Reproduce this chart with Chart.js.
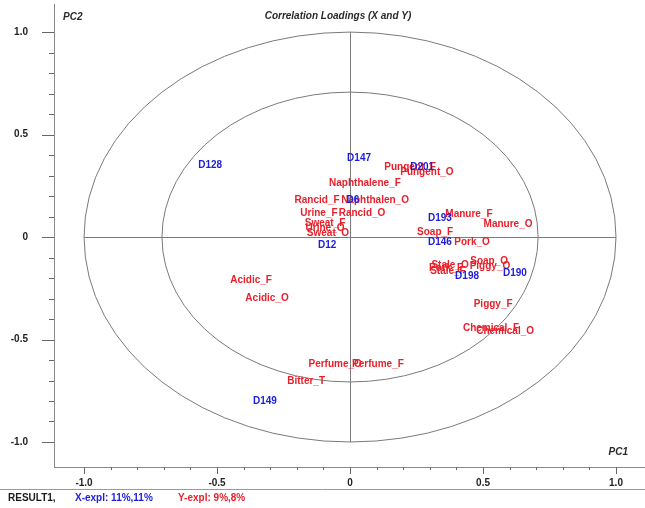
<!DOCTYPE html>
<html>
<head>
<meta charset="utf-8">
<script src="https://cdn.jsdelivr.net/npm/chart.js@4.4.0/dist/chart.umd.min.js"></script>
<style>
  html, body { margin: 0; padding: 0; background: #fff; }
</style>
</head>
<body>
<canvas id="c" width="645" height="508"></canvas>
<script>
// Y variables (sensory attributes), red
const yNames = ['Pungent_F','Pungent_O','Naphthalene_F','Rancid_F','Naphthalen_O','Urine_F','Rancid_O',
  'Sweat_F','Urine_O','Sweat_O','Manure_F','Manure_O','Soap_F','Pork_O','Soap_O','Stale_O','Piggy_O',
  'Pork_F','Stale_F','Piggy_F','Chemical_F','Chemical_O','Acidic_F','Acidic_O','Perfume_O','Perfume_F','Bitter_T'];
const yPC1 = [0.226,0.289,0.056,-0.124,0.094,-0.117,0.045,
  -0.094,-0.094,-0.083,0.447,0.594,0.320,0.459,0.523,0.376,0.526,
  0.361,0.368,0.538,0.530,0.583,-0.372,-0.312,-0.056,0.105,-0.165];
const yPC2 = [0.341,0.317,0.263,0.180,0.180,0.117,0.117,
  0.068,0.044,0.020,0.112,0.063,0.024,-0.024,-0.117,-0.137,-0.141,
  -0.151,-0.166,-0.327,-0.444,-0.459,-0.210,-0.298,-0.620,-0.620,-0.702];

// X variables, blue
const xNames = ['D128','D147','D201','D6','D193','D146','D12','D198','D190','D149'];
const xPC1 = [-0.526,0.034,0.271,0.011,0.338,0.338,-0.086,0.440,0.620,-0.320];
const xPC2 = [0.351,0.385,0.341,0.180,0.093,-0.024,-0.039,-0.190,-0.176,-0.800];

// Axis ticks
const majorTicks = [-1.0,-0.5,0,0.5,1.0];
const majorLabels = ['-1.0','-0.5','0','0.5','1.0'];
const minorTicks = [-0.9,-0.8,-0.7,-0.6,-0.4,-0.3,-0.2,-0.1,0.1,0.2,0.3,0.4,0.6,0.7,0.8,0.9];

// Explained variance shown in the footer
const xExpl = ['11%','11%'];
const yExpl = ['9%','8%'];

const FONT = '"Liberation Sans", Arial, Helvetica, sans-serif';
const RED = '#e8202a';
const BLUE = '#1c1cdc';
const LINE = '#7a7a7a';

const toPoints = (xs, ys) => xs.map((x, i) => ({ x, y: ys[i] }));

const loadingsPlugin = {
  id: 'loadings',
  beforeDatasetsDraw(chart) {
    const { ctx, scales: { x, y }, chartArea: a } = chart;
    const cx = x.getPixelForValue(0), cy = y.getPixelForValue(0);
    const ux = x.getPixelForValue(1) - cx, uy = cy - y.getPixelForValue(1);
    ctx.save();
    ctx.strokeStyle = LINE;
    ctx.lineWidth = 1;
    // 100% and 50% explained-variance ellipses
    [1, Math.sqrt(0.5)].forEach(r => {
      ctx.beginPath();
      ctx.ellipse(cx, cy, r * ux, r * uy, 0, 0, Math.PI * 2);
      ctx.stroke();
    });
    // cross hairs
    ctx.beginPath();
    ctx.moveTo(x.getPixelForValue(-1), Math.round(cy) + 0.5);
    ctx.lineTo(x.getPixelForValue(1), Math.round(cy) + 0.5);
    ctx.moveTo(Math.round(cx) + 0.5, y.getPixelForValue(1));
    ctx.lineTo(Math.round(cx) + 0.5, y.getPixelForValue(-1));
    ctx.stroke();
    // tick marks
    ctx.strokeStyle = '#666';
    ctx.beginPath();
    const xt = (v, len) => {
      const px = Math.round(x.getPixelForValue(v)) + 0.5;
      ctx.moveTo(px, a.bottom); ctx.lineTo(px, a.bottom + len);
    };
    const yt = (v, len) => {
      const py = Math.round(y.getPixelForValue(v)) + 0.5;
      ctx.moveTo(a.left, py); ctx.lineTo(a.left - len, py);
    };
    majorTicks.forEach(v => { xt(v, 7); yt(v, 12); });
    minorTicks.forEach(v => { xt(v, 3); yt(v, 5); });
    ctx.stroke();
    ctx.restore();
  },
  afterDatasetsDraw(chart) {
    const { ctx } = chart;
    ctx.save();
    ctx.font = 'bold 10px ' + FONT;
    ctx.textAlign = 'center';
    ctx.textBaseline = 'middle';
    chart.data.datasets.forEach((ds, di) => {
      const meta = chart.getDatasetMeta(di);
      ctx.fillStyle = ds.labelColor;
      meta.data.forEach((el, i) => {
        ctx.fillText(ds.names[i], el.x, el.y);
      });
    });
    ctx.restore();
  },
  afterDraw(chart) {
    const { ctx } = chart;
    ctx.save();
    ctx.textBaseline = 'middle';
    ctx.fillStyle = '#2a2a2a';
    ctx.font = 'italic bold 10px ' + FONT;
    ctx.textAlign = 'center';
    ctx.fillText('Correlation Loadings (X and Y)', 338, 16);
    ctx.textAlign = 'left';
    ctx.fillText('PC2', 63, 17);
    ctx.textAlign = 'right';
    ctx.fillText('PC1', 628, 452);

    // footer
    ctx.strokeStyle = '#9a9a9a';
    ctx.lineWidth = 1;
    ctx.beginPath();
    ctx.moveTo(0, 489.5); ctx.lineTo(645, 489.5);
    ctx.stroke();
    ctx.textAlign = 'left';
    ctx.font = 'bold 10px ' + FONT;
    ctx.fillStyle = '#1a1a1a';
    ctx.fillText('RESULT1,', 8, 498);
    ctx.fillStyle = BLUE;
    ctx.fillText('X-expl: ' + xExpl.join(','), 75, 498);
    ctx.fillStyle = RED;
    ctx.fillText('Y-expl: ' + yExpl.join(','), 178, 498);
    ctx.restore();
  }
};

const axisCommon = (fitKey, fitVal, pad) => ({
  type: 'linear',
  afterBuildTicks: s => { s.ticks = majorTicks.map(v => ({ value: v })); },
  afterFit: s => {
    s[fitKey] = fitVal;
    // the plot frame is fixed, so no extra room for edge labels
    s.paddingTop = 0; s.paddingBottom = 0; s.paddingLeft = 0; s.paddingRight = 0;
  },
  grid: { display: true, drawOnChartArea: false, drawTicks: false },
  border: { display: true, color: '#8a8a8a', width: 1 },
  ticks: {
    padding: pad,
    color: '#222',
    font: { family: FONT, size: 10, weight: 'bold' },
    callback: v => majorLabels[majorTicks.indexOf(v)] ?? ''
  }
});

new Chart(document.getElementById('c'), {
  type: 'scatter',
  data: {
    datasets: [
      { names: yNames, labelColor: RED, data: toPoints(yPC1, yPC2), pointRadius: 0 },
      { names: xNames, labelColor: BLUE, data: toPoints(xPC1, xPC2), pointRadius: 0 }
    ]
  },
  options: {
    responsive: false,
    animation: false,
    devicePixelRatio: 1,
    layout: { autoPadding: false, padding: { top: 4, right: 0, left: 0, bottom: 0 } },
    plugins: { legend: { display: false }, tooltip: { enabled: false }, title: { display: false } },
    scales: {
      x: Object.assign(axisCommon('height', 41, 10), { min: -1.113, max: 1.109, position: 'bottom' }),
      y: Object.assign(axisCommon('width', 54, 26), { min: -1.122, max: 1.137, position: 'left' })
    }
  },
  plugins: [loadingsPlugin]
});
</script>
</body>
</html>
